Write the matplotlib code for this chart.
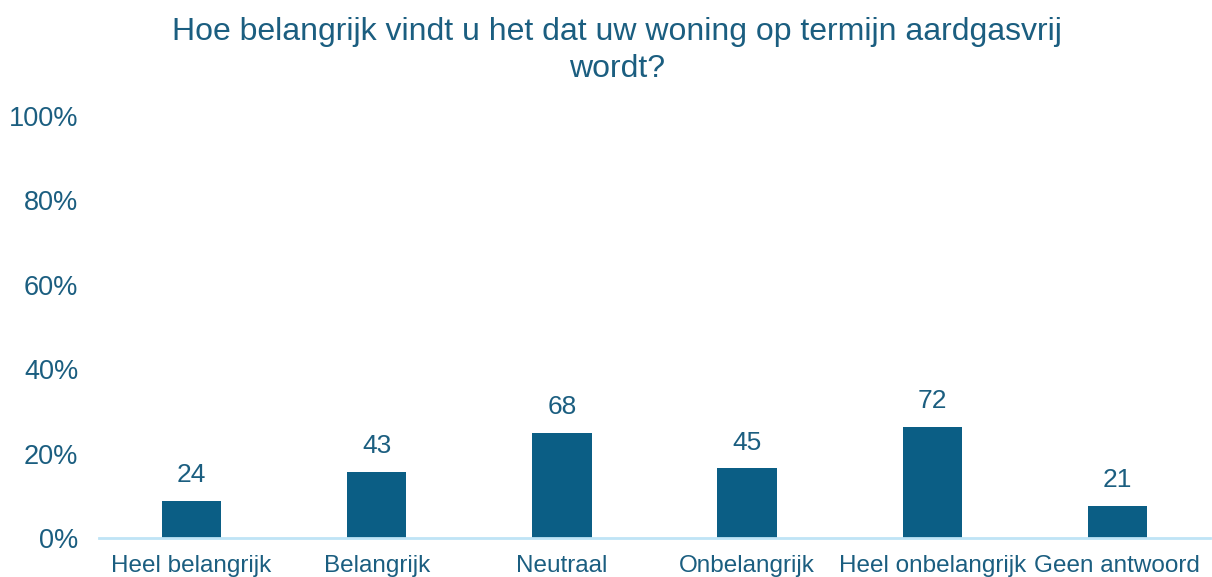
import matplotlib
matplotlib.use("Agg")
import matplotlib.pyplot as plt
from matplotlib.ticker import PercentFormatter

categories = ["Heel belangrijk", "Belangrijk", "Neutraal", "Onbelangrijk",
              "Heel onbelangrijk", "Geen antwoord"]
counts = [24, 43, 68, 45, 72, 21]
title = "Hoe belangrijk vindt u het dat uw woning op termijn aardgasvrij\nwordt?"

total = sum(counts)
shares = [c / total for c in counts]

plt.rcParams['font.family'] = ['Liberation Sans', 'DejaVu Sans']
color = "#0B5E85"
textc = "#1B5E80"

fig = plt.figure(figsize=(12.12, 5.77), dpi=100)
ax = fig.add_axes([99/1212, 1 - 538/577, 1111/1212, (538 - 116)/577])
x = range(len(categories))
bars = ax.bar(x, shares, width=0.32, color=color)
for xi, s, c in zip(x, shares, counts):
    ax.annotate(str(c), (xi, s), xytext=(0, 10), textcoords="offset points",
                ha="center", va="bottom", fontsize=19, color=textc)

ax.set_ylim(0, 1)
ax.set_xlim(-0.5, len(categories) - 0.5)
ax.set_yticks([0, 0.2, 0.4, 0.6, 0.8, 1.0])
ax.yaxis.set_major_formatter(PercentFormatter(1.0, decimals=0))
ax.set_xticks(list(x))
ax.set_xticklabels(categories)
ax.tick_params(axis='y', length=0, pad=15, labelsize=19.5, labelcolor=textc)
ax.tick_params(axis='x', length=0, pad=12.5, labelsize=17.5, labelcolor=textc)
for side in ["top", "right", "left"]:
    ax.spines[side].set_visible(False)
ax.spines["bottom"].set_color("#BFE4F6")
ax.spines["bottom"].set_linewidth(2)

fig.text(617/1212, 1 - 17/577, title, ha="center", va="top", fontsize=23,
         color=textc, linespacing=1.3)

fig.savefig("out.png", dpi=100)
